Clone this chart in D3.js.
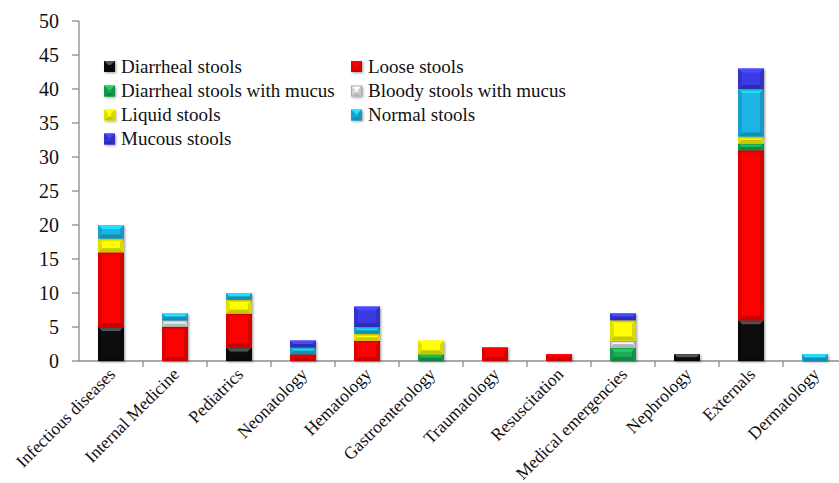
<!DOCTYPE html>
<html>
<head>
<meta charset="utf-8">
<script src="https://cdn.jsdelivr.net/npm/d3@7"></script>
<style>
  body { margin: 0; background: #fff; }
  svg { display: block; }
</style>
</head>
<body>
<svg width="839" height="483"></svg>
<script>
// stool types by department - stacked bars
const categories = ["Infectious diseases", "Internal Medicine", "Pediatrics", "Neonatology",
  "Hematology", "Gastroenterology", "Traumatology", "Resuscitation",
  "Medical emergencies", "Nephrology", "Externals", "Dermatology"];

const seriesNames = ["Diarrheal stools", "Loose stools", "Diarrheal stools with mucus",
  "Bloody stools with mucus", "Liquid stools", "Normal stools", "Mucous stools"];

const diarrheal      = [5, 0, 2, 0, 0, 0, 0, 0, 0, 1, 6, 0];
const loose          = [11, 5, 5, 1, 3, 0, 2, 1, 0, 0, 25, 0];
const diarrhealMucus = [0, 0, 0, 0, 0, 1, 0, 0, 2, 0, 1, 0];
const bloodyMucus    = [0, 1, 0, 0, 0, 0, 0, 0, 1, 0, 0, 0];
const liquid         = [2, 0, 2, 0, 1, 2, 0, 0, 3, 0, 1, 0];
const normal         = [2, 1, 1, 1, 1, 0, 0, 0, 0, 0, 7, 1];
const mucous         = [0, 0, 0, 1, 3, 0, 0, 0, 1, 0, 3, 0];

const yTicks = [0, 5, 10, 15, 20, 25, 30, 35, 40, 45, 50];

const colors = ["#0a0a0a", "#ff0000", "#1aaa55", "#f0f0f0", "#ffff00", "#1ab4e6", "#3a3ae6"];

const seriesValues = [diarrheal, loose, diarrhealMucus, bloodyMucus, liquid, normal, mucous];

// build rows for d3.stack
const rows = categories.map((c, i) => {
  const r = { cat: c };
  seriesNames.forEach((s, j) => { r[s] = seriesValues[j][i]; });
  return r;
});

const svg = d3.select("svg");
const font = '"Liberation Serif", "Times New Roman", serif';

const plotLeft = 79, plotBottom = 361, plotTop = 21;
const x = d3.scaleBand().domain(categories).range([plotLeft, plotLeft + 64 * 12]).paddingInner(0).paddingOuter(0);
const y = d3.scaleLinear().domain([0, 50]).range([plotBottom, plotTop]);

const stacked = d3.stack().keys(seriesNames)(rows);

// defs: shadow filter
const defs = svg.append("defs");
const f = defs.append("filter").attr("id", "shadow").attr("x", "-20%").attr("y", "-20%").attr("width", "150%").attr("height", "150%");
f.append("feDropShadow").attr("dx", 1.2).attr("dy", 1.2).attr("stdDeviation", 1).attr("flood-color", "#000").attr("flood-opacity", 0.35);

// bevelled block drawing
function bevelBlock(g, x0, y0, w, h, color) {
  const c = d3.color(color);
  const b = Math.min(4, h / 2, w / 2);
  g.append("rect").attr("x", x0).attr("y", y0).attr("width", w).attr("height", h)
    .attr("fill", color).attr("filter", "url(#shadow)");
  // top facet (lighter)
  g.append("path")
    .attr("d", `M${x0},${y0}L${x0 + w},${y0}L${x0 + w - b},${y0 + b}L${x0 + b},${y0 + b}Z`)
    .attr("fill", color === "#0a0a0a" ? "#555" : c.brighter(0.6));
  // bottom facet (darker)
  g.append("path")
    .attr("d", `M${x0},${y0 + h}L${x0 + w},${y0 + h}L${x0 + w - b},${y0 + h - b}L${x0 + b},${y0 + h - b}Z`)
    .attr("fill", c.darker(0.7));
  // side facets
  g.append("path")
    .attr("d", `M${x0},${y0}L${x0 + b},${y0 + b}L${x0 + b},${y0 + h - b}L${x0},${y0 + h}Z`)
    .attr("fill", c.darker(0.35));
  g.append("path")
    .attr("d", `M${x0 + w},${y0}L${x0 + w - b},${y0 + b}L${x0 + w - b},${y0 + h - b}L${x0 + w},${y0 + h}Z`)
    .attr("fill", c.darker(0.45));
  if (color === "#f0f0f0") {
    g.append("rect").attr("x", x0 + 0.5).attr("y", y0 + 0.5).attr("width", w - 1).attr("height", h - 1)
      .attr("fill", "none").attr("stroke", "#aaa").attr("stroke-width", 1);
  }
}

// y axis
const yAxis = svg.append("g");
yAxis.append("line").attr("x1", plotLeft).attr("x2", plotLeft).attr("y1", plotTop).attr("y2", plotBottom)
  .attr("stroke", "#8c8c8c").attr("stroke-width", 1.3);
yTicks.forEach(t => {
  yAxis.append("line").attr("x1", plotLeft - 7).attr("x2", plotLeft).attr("y1", y(t)).attr("y2", y(t))
    .attr("stroke", "#8c8c8c").attr("stroke-width", 1.3);
  yAxis.append("text").attr("x", 59).attr("y", y(t)).attr("dy", "0.35em")
    .attr("text-anchor", "end").style("font-family", font).attr("font-size", 20)
    .attr("fill", "#111").text(t);
});

// x axis
const xAxis = svg.append("g");
xAxis.append("line").attr("x1", plotLeft).attr("x2", 839).attr("y1", plotBottom).attr("y2", plotBottom)
  .attr("stroke", "#8c8c8c").attr("stroke-width", 1.3);
categories.forEach(c => {
  const bx = x(c) + x.bandwidth();
  xAxis.append("line").attr("x1", bx).attr("x2", bx).attr("y1", plotBottom).attr("y2", plotBottom + 6)
    .attr("stroke", "#8c8c8c").attr("stroke-width", 1.3);
});

// bars
const barW = 26;
const bars = svg.append("g");
stacked.forEach((layer, j) => {
  layer.forEach((d, i) => {
    if (d[1] - d[0] <= 0) return;
    const cx = x(categories[i]) + x.bandwidth() / 2;
    bevelBlock(bars, cx - barW / 2, y(d[1]), barW, y(d[0]) - y(d[1]), colors[j]);
  });
});

// x labels
categories.forEach(c => {
  const cx = x(c) + x.bandwidth() / 2 + 1;
  svg.append("text")
    .attr("transform", `translate(${cx},${plotBottom + 10}) rotate(-45)`)
    .attr("text-anchor", "end").attr("dy", "0.35em")
    .style("font-family", font).attr("font-size", 17.5).attr("fill", "#111")
    .text(c);
});

// legend
const legend = svg.append("g");
const legX = [104, 351];
const legY = [66, 90.5, 114.5, 138.5];
seriesNames.forEach((s, j) => {
  const lx = legX[j % 2], ly = legY[Math.floor(j / 2)];
  bevelBlock(legend, lx, ly - 5, 11, 11, colors[j]);
  legend.append("text").attr("x", lx + 17).attr("y", ly).attr("dy", "0.35em")
    .style("font-family", font).attr("font-size", 19).attr("fill", "#111").text(s);
});
</script>
</body>
</html>
